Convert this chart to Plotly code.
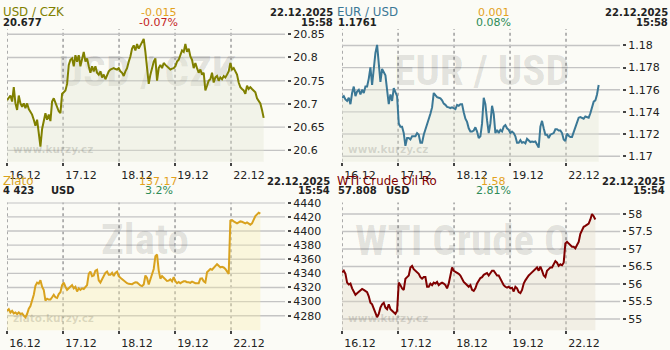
import plotly.graph_objects as go

W, H = 670, 350
STEP = 5 / 168  # sampling interval in trading days

day_ticks = [0, 1, 2, 3, 4]
day_labels = ["16.12", "17.12", "18.12", "19.12", "22.12"]

usdczk = [
    20.708, 20.712, 20.718, 20.705, 20.736, 20.701, 20.687, 20.718, 20.701, 20.694,
    20.701, 20.691, 20.701, 20.689, 20.684, 20.677, 20.666, 20.653, 20.666, 20.639,
    20.608, 20.646, 20.660, 20.680, 20.666, 20.677, 20.663, 20.705, 20.712, 20.701,
    20.691, 20.684, 20.680, 20.722, 20.725, 20.729, 20.743, 20.784, 20.795, 20.798,
    20.781, 20.805, 20.791, 20.805, 20.781, 20.795, 20.812, 20.791, 20.798, 20.781,
    20.767, 20.781, 20.770, 20.781, 20.767, 20.763, 20.770, 20.757, 20.763, 20.753,
    20.763, 20.770, 20.774, 20.776, 20.777, 20.775, 20.774, 20.777, 20.770, 20.767,
    20.760, 20.770, 20.777, 20.791, 20.802, 20.819, 20.826, 20.815, 20.829, 20.819,
    20.826, 20.836, 20.840, 20.812, 20.770, 20.743, 20.763, 20.781, 20.791, 20.798,
    20.750, 20.777, 20.784, 20.777, 20.788, 20.784, 20.781, 20.777, 20.774, 20.776,
    20.777, 20.781, 20.791, 20.795, 20.805, 20.815, 20.812, 20.829, 20.812, 20.819,
    20.802, 20.795, 20.777, 20.788, 20.777, 20.767, 20.774, 20.763, 20.767, 20.729,
    20.739, 20.750, 20.753, 20.767, 20.746, 20.757, 20.760, 20.750, 20.757, 20.753,
    20.760, 20.757, 20.763, 20.770, 20.788, 20.774, 20.777, 20.770, 20.763, 20.746,
    20.736, 20.732, 20.729, 20.722, 20.739, 20.732, 20.736, 20.732, 20.729, 20.725,
    20.712, 20.705, 20.701, 20.687, 20.670,
]

eurusd = [
    1.17528, 1.17542, 1.17513, 1.17499, 1.17528, 1.17470, 1.17571, 1.17629, 1.17542, 1.17585,
    1.17600, 1.17557, 1.17600, 1.17571, 1.17629, 1.17629, 1.17701, 1.17803, 1.17643, 1.17817,
    1.17933, 1.18006, 1.17817, 1.17672, 1.17788, 1.17759, 1.17730, 1.17600, 1.17470, 1.17557,
    1.17499, 1.17614, 1.17585, 1.17542, 1.17296, 1.17267, 1.17267, 1.17209, 1.17093, 1.17165,
    1.17165, 1.17151, 1.17180, 1.17180, 1.17180, 1.17209, 1.17194, 1.17122, 1.17122, 1.17194,
    1.17238, 1.17296, 1.17339, 1.17383, 1.17441, 1.17571, 1.17551, 1.17533, 1.17528, 1.17522,
    1.17504, 1.17475, 1.17464, 1.17446, 1.17441, 1.17435, 1.17441, 1.17435, 1.17426, 1.17464,
    1.17455, 1.17470, 1.17470, 1.17397, 1.17339, 1.17310, 1.17252, 1.17223, 1.17223, 1.17232,
    1.17261, 1.17223, 1.17165, 1.17180, 1.17296, 1.17528, 1.17470, 1.17325, 1.17209, 1.17296,
    1.17455, 1.17383, 1.17209, 1.17238, 1.17209, 1.17238, 1.17223, 1.17267, 1.17281, 1.17252,
    1.17238, 1.17209, 1.17223, 1.17209, 1.17180, 1.17122, 1.17122, 1.17145, 1.17122, 1.17128,
    1.17116, 1.17157, 1.17145, 1.17128, 1.17133, 1.17128, 1.17133, 1.17107, 1.17078, 1.17267,
    1.17319, 1.17252, 1.17194, 1.17194, 1.17165, 1.17194, 1.17203, 1.17209, 1.17243, 1.17243,
    1.17232, 1.17232, 1.17209, 1.17151, 1.17136, 1.17203, 1.17185, 1.17174, 1.17174, 1.17223,
    1.17272, 1.17310, 1.17348, 1.17354, 1.17348, 1.17339, 1.17359, 1.17354, 1.17348, 1.17388,
    1.17441, 1.17493, 1.17504, 1.17557, 1.17643,
]

zlato = [
    4286.9, 4289.2, 4284.6, 4286.9, 4283.3, 4284.6, 4282.4, 4284.6, 4282.4, 4283.3,
    4280.1, 4277.8, 4282.4, 4290.1, 4293.8, 4300.6, 4309.7, 4322.5, 4327.0, 4325.6,
    4330.2, 4321.1, 4316.5, 4301.5, 4304.2, 4302.9, 4302.9, 4306.1, 4309.7, 4306.1,
    4305.1, 4310.6, 4313.3, 4323.4, 4327.0, 4321.1, 4316.5, 4318.8, 4321.1, 4323.4,
    4318.8, 4321.1, 4314.3, 4318.8, 4316.5, 4318.8, 4317.9, 4321.1, 4323.4, 4339.3,
    4342.5, 4336.1, 4337.0, 4343.9, 4345.2, 4330.2, 4327.0, 4331.6, 4336.1, 4340.7,
    4342.5, 4337.9, 4337.9, 4340.7, 4336.1, 4340.7, 4342.5, 4336.1, 4333.8, 4331.6,
    4329.7, 4327.9, 4326.1, 4325.2, 4325.2, 4324.7, 4326.1, 4327.5, 4327.0, 4324.7,
    4322.9, 4322.0, 4324.3, 4337.0, 4333.4, 4324.3, 4332.5, 4337.0, 4346.2, 4364.4,
    4366.7, 4343.9, 4332.5, 4336.1, 4333.8, 4331.6, 4329.3, 4329.7, 4331.6, 4328.8,
    4334.8, 4328.8, 4326.1, 4327.9, 4326.1, 4327.5, 4328.8, 4328.8, 4327.5, 4327.5,
    4326.6, 4328.4, 4326.6, 4326.1, 4326.1, 4326.1, 4332.5, 4332.9, 4328.8, 4327.0,
    4341.6, 4343.9, 4346.2, 4345.2, 4348.4, 4350.7, 4353.0, 4350.7, 4348.4, 4349.3,
    4348.4, 4346.2, 4342.5, 4339.3, 4414.5, 4415.4, 4413.6, 4412.2, 4410.8, 4412.2,
    4413.6, 4413.1, 4411.3, 4410.8, 4412.2, 4409.9, 4409.0, 4410.8, 4416.8, 4421.3,
    4423.6, 4425.9, 4424.5,
]

wti = [
    56.333, 56.379, 56.288, 56.040, 55.985, 56.013, 55.875, 55.784, 55.692, 55.738,
    55.784, 55.830, 55.857, 55.830, 55.784, 55.766, 55.647, 55.463, 55.418, 55.280,
    55.143, 55.051, 55.143, 55.326, 55.418, 55.463, 55.326, 55.280, 55.418, 55.280,
    55.234, 55.189, 55.143, 55.234, 56.040, 55.967, 55.875, 55.830, 56.150, 56.196,
    56.242, 56.471, 56.516, 56.425, 56.379, 56.333, 56.288, 56.196, 56.150, 56.196,
    56.196, 55.921, 55.921, 56.013, 55.967, 56.040, 56.013, 56.059, 55.967, 56.013,
    56.040, 56.013, 55.967, 55.875, 56.013, 56.242, 56.471, 56.379, 56.352, 56.333,
    56.288, 56.242, 56.150, 56.059, 56.013, 55.967, 55.921, 55.967, 55.830, 55.802,
    55.875, 56.013, 56.104, 56.169, 56.196, 56.260, 56.288, 56.315, 56.242, 56.315,
    56.379, 56.379, 56.288, 56.242, 56.242, 56.150, 56.104, 55.967, 55.921, 55.894,
    55.921, 55.875, 55.894, 55.784, 55.921, 55.875, 55.766, 55.738, 55.830, 56.013,
    56.104, 56.196, 56.242, 56.288, 56.333, 56.379, 56.443, 56.471, 56.379, 56.498,
    56.379, 56.242, 56.196, 56.379, 56.425, 56.471, 56.471, 56.562, 56.654, 56.608,
    56.516, 56.562, 56.535, 56.608, 57.158, 57.203, 57.158, 57.112, 57.066, 57.066,
    57.020, 57.112, 57.203, 57.432, 57.524, 57.634, 57.661, 57.707, 57.725, 57.844,
    58.000, 57.936, 57.844,
]

usdczk_ticks = [20.6, 20.65, 20.7, 20.75, 20.8, 20.85]
eurusd_ticks = [1.17, 1.172, 1.174, 1.176, 1.178, 1.18]
zlato_ticks = [4280, 4300, 4320, 4340, 4360, 4380, 4400, 4420, 4440]
wti_ticks = [55, 55.5, 56, 56.5, 57, 57.5, 58]

FONT = "DejaVu Sans"
WM_FONT = "Roboto Condensed, DejaVu Sans Condensed, Roboto"
BG = "#FBFBF6"
GRID = "#a2a2a2"
HGRID = "#c4c4c4"
TXT = "#222222"
ORANGE = "#E3A21E"
RED = "#C41E1E"
GREEN = "#2E8B57"
X_END = 5

ROWS = [
    dict(top=24, bottom=161.7, h1=6.3, h2=17.0, date_right=333),
    dict(top=204, bottom=336.7, h1=182.0, h2=192.0, date_right=330),
]

panels = [
    dict(title="USD / CZK", color="#808000", values=usdczk, ticks=usdczk_ticks,
         yrange=[20.5756, 20.861], fill="rgba(225,228,209,0.35)",
         last="20.677", unit="", change="-0.015", pct="-0.07%", pct_color=RED,
         date="22.12.2025", time="15:58", ox=0, row=0,
         wm="USD / CZK", wm_x=140, wm_y=71.5, wm_pos="middle center", wm_clip=280,
         small="www.kurzy.cz"),
    dict(title="EUR / USD", color="#3B7896", values=eurusd, ticks=eurusd_ticks,
         yrange=[1.169504, 1.18148], fill="rgba(225,228,209,0.35)",
         last="1.1761", unit="", change="0.001", pct="0.08%", pct_color=GREEN,
         date="22.12.2025", time="15:58", ox=335, row=0,
         wm="EUR / USD", wm_x=140, wm_y=71.0, wm_pos="middle center", wm_clip=280,
         small="www.kurzy.cz"),
    dict(title="Zlato", color="#D9A21E", values=zlato, ticks=zlato_ticks,
         yrange=[4259.5, 4440.5], fill="rgba(248,237,172,0.35)",
         last="4 423", unit="USD", change="137.17", pct="3.2%", pct_color=GREEN,
         date="22.12.2025", time="15:54", ox=0, row=1,
         wm="Zlato", wm_x=138, wm_y=246.5, wm_pos="middle center", wm_clip=280,
         small="zlato.kurzy.cz"),
    dict(title="WTI Crude Oil Ro", color="#800000", values=wti, ticks=wti_ticks,
         yrange=[54.68, 58.33], fill="rgba(225,217,197,0.35)",
         last="57.808", unit="USD", change="1.58", pct="2.81%", pct_color=GREEN,
         date="22.12.2025", time="15:54", ox=335, row=1,
         wm="WTI Crude Oil Ro", wm_x=13, wm_y=247.5, wm_pos="middle right", wm_clip=226,
         small="www.kurzy.cz"),
]


def aid(n):
    return "" if n == 1 else str(n)


def ann(text, x, y, color, size, bold=False, xanchor="left"):
    return dict(text=text, x=x / W, y=1 - y / H, xref="paper", yref="paper",
                xanchor=xanchor, yanchor="middle", showarrow=False,
                borderpad=0, borderwidth=0,
                font=dict(family=FONT, size=size, color=color,
                          weight="bold" if bold else "normal"))


fig = go.Figure()
layout = {}
annotations = []
shapes = []
wm_traces = []
data_traces = []
grid_line = dict(color=GRID, width=1.6, dash="3px,3px")

for i, p in enumerate(panels):
    r = ROWS[p["row"]]
    nw, nd = i + 1, i + 5
    x0, x1 = p["ox"] + 7, p["ox"] + 287
    ydom = [1 - r["bottom"] / H, 1 - r["top"] / H]
    wxa, wya = "x" + aid(nw), "y" + aid(nw)
    xa, ya = "x" + aid(nd), "y" + aid(nd)

    # watermark layer (pixel-space axes, drawn below the data subplot, clipped)
    layout["xaxis" + aid(nw)] = dict(domain=[x0 / W, (x0 + p["wm_clip"]) / W],
                                     range=[0, p["wm_clip"]], visible=False,
                                     fixedrange=True, anchor=wya)
    layout["yaxis" + aid(nw)] = dict(domain=ydom, range=[r["bottom"], r["top"]],
                                     visible=False, fixedrange=True, anchor=wxa)
    wm_traces.append(go.Scatter(
        x=[p["wm_x"]], y=[p["wm_y"]], text=[p["wm"]], mode="text",
        textposition=p["wm_pos"], cliponaxis=True, hoverinfo="skip",
        textfont=dict(family=WM_FONT, size=43, color="rgba(0,0,0,0.105)",
                      weight="bold"),
        xaxis=wxa, yaxis=wya))
    wm_traces.append(go.Scatter(
        x=[6], y=[r["bottom"] - 11.7], text=[p["small"]], mode="text",
        textposition="middle right", cliponaxis=True, hoverinfo="skip",
        textfont=dict(family=FONT, size=10.5, color="rgba(0,0,0,0.2)",
                      weight="bold"),
        xaxis=wxa, yaxis=wya))

    # data
    xs = [k * STEP for k in range(len(p["values"]))]
    data_traces.append(go.Scatter(
        x=xs, y=p["values"], mode="lines", fill="tozeroy",
        fillcolor=p["fill"], line=dict(width=0, color=p["fill"]),
        hoverinfo="skip", xaxis=xa, yaxis=ya))
    data_traces.append(go.Scatter(
        x=xs, y=p["values"], mode="lines",
        line=dict(width=2, color=p["color"]),
        hoverinfo="skip", xaxis=xa, yaxis=ya))

    layout["xaxis" + aid(nd)] = dict(
        domain=[x0 / W, x1 / W], range=[-0.002, X_END], anchor=ya,
        tickvals=day_ticks, ticktext=day_labels, ticks="outside", ticklen=3,
        tickwidth=1.6, tickcolor="#444", showline=False, showgrid=False,
        zeroline=False, fixedrange=True, ticklabelshift=18,
        tickfont=dict(family=FONT, size=11, color=TXT))
    layout["yaxis" + aid(nd)] = dict(
        domain=ydom, range=p["yrange"], anchor=xa, side="right",
        tickvals=p["ticks"], ticktext=[f"{v:g}" for v in p["ticks"]],
        ticks="outside", ticklen=3, tickwidth=1.6, tickcolor="#444",
        showline=False, showgrid=False, zeroline=False, fixedrange=True,
        tickfont=dict(family=FONT, size=11, color=TXT))

    # vertical dashed grid at the day boundaries
    for t in day_ticks:
        shapes.append(dict(type="line", layer="below", xref=xa, yref=ya + " domain",
                           x0=t, x1=t, y0=0, y1=1, line=grid_line))
    # horizontal grid at the y tick values, as thin filled bands (1.4 px tall)
    for t in p["ticks"]:
        shapes.append(dict(type="rect", layer="below", xref=xa + " domain", yref=ya,
                           ysizemode="pixel", yanchor=t, y0=-0.7, y1=0.7,
                           x0=0, x1=0.993, fillcolor=HGRID,
                           line=dict(width=0)))

    ox = p["ox"]
    annotations += [
        ann(p["title"], ox + 2.5, r["h1"], p["color"], 11.8),
        ann(p["last"], ox + 3, r["h2"], TXT, 10, bold=True),
        ann(p["change"], ox + 158.5, r["h1"], ORANGE, 11, xanchor="center"),
        ann(p["pct"], ox + 158.5, r["h2"], p["pct_color"], 11, xanchor="center"),
        ann(p["date"], ox + r["date_right"], r["h1"], TXT, 10, bold=True, xanchor="right"),
        ann(p["time"], ox + r["date_right"], r["h2"], TXT, 10, bold=True, xanchor="right"),
    ]
    if p["unit"]:
        annotations.append(ann(p["unit"], ox + 51, r["h2"], TXT, 10, bold=True))

for t in wm_traces + data_traces:
    fig.add_trace(t)

fig.update_layout(
    width=W, height=H, margin=dict(l=0, r=0, t=0, b=0),
    paper_bgcolor=BG, plot_bgcolor="rgba(0,0,0,0)",
    showlegend=False, hovermode=False, annotations=annotations, shapes=shapes,
    **layout)

fig.write_html("out.html", config={"displayModeBar": False})
